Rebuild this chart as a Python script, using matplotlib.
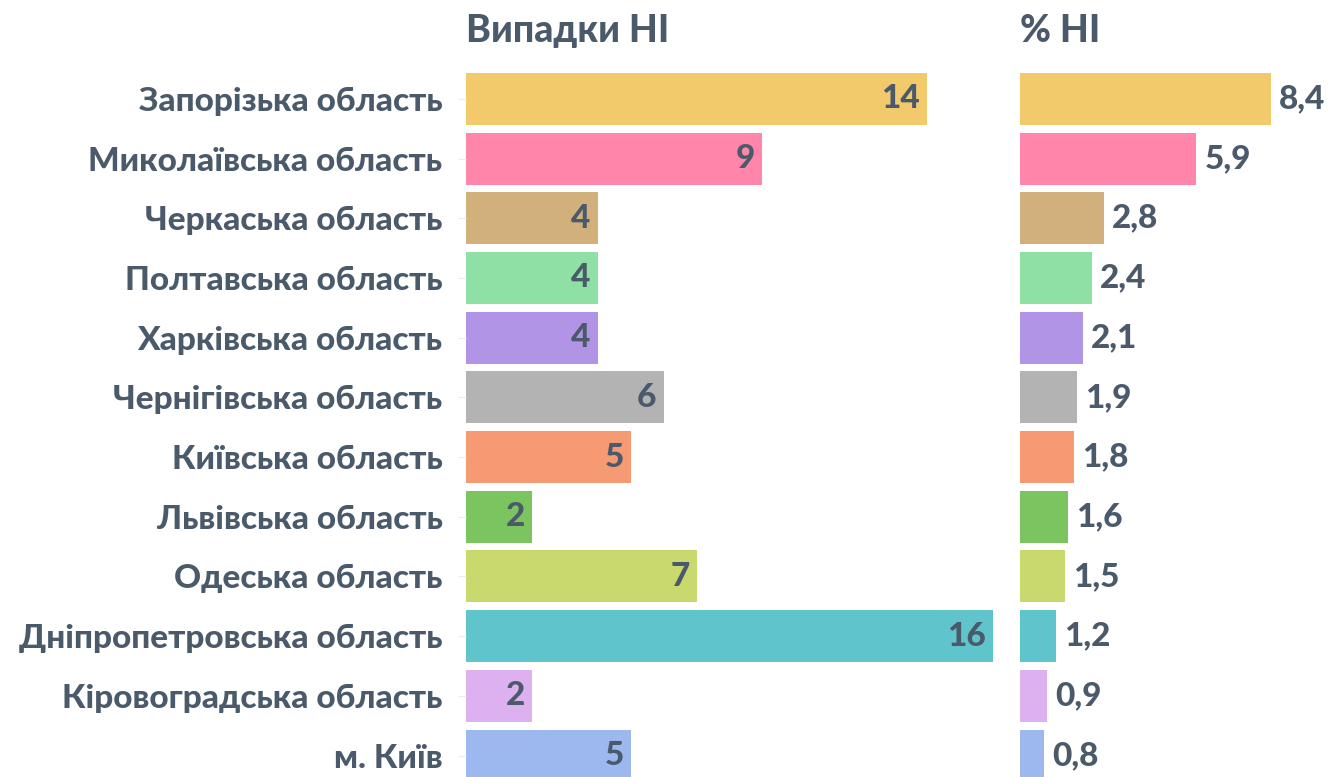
import matplotlib
matplotlib.use("Agg")
from matplotlib import pyplot as plt

regions = ["Запорізька область", "Миколаївська область", "Черкаська область",
           "Полтавська область", "Харківська область", "Чернігівська область",
           "Київська область", "Львівська область", "Одеська область",
           "Дніпропетровська область", "Кіровоградська область", "м. Київ"]
cases = [14, 9, 4, 4, 4, 6, 5, 2, 7, 16, 2, 5]
share = [8.4, 5.9, 2.8, 2.4, 2.1, 1.9, 1.8, 1.6, 1.5, 1.2, 0.9, 0.8]
colors = ["#f2c96b", "#ff85aa", "#d2b07c", "#8ee0a4", "#b294e6", "#b3b3b3",
          "#f59a72", "#7bc460", "#c9d96e", "#5fc4cc", "#ddb0f0", "#9db7ef"]

txt = "#4b5a6b"
plt.rcParams['font.family'] = ['Lato', 'DejaVu Sans']
wt = 'black'

W, H = 1337, 777
fig = plt.figure(figsize=(W / 100, H / 100), dpi=100)

top_px = 69
ax1 = fig.add_axes([466 / W, 0, (993 - 466) / W, 1 - top_px / H])
ax2 = fig.add_axes([1020 / W, 0, (1271 - 1020) / W, 1 - top_px / H])

ypos = list(range(len(regions)))
for ax in (ax1, ax2):
    for s in ax.spines.values():
        s.set_visible(False)
    ax.set_ylim(11.36, -0.5)
    ax.set_xticks([])

fs = 24
ax1.barh(ypos, cases, height=0.87, color=colors)
ax1.set_xlim(0, 16)
ax1.set_yticks(ypos)
ax1.set_yticklabels(regions, fontsize=fs, color=txt, fontweight=wt)
ax1.tick_params(axis='y', length=6, color='#ececec', pad=11)
for y, v in zip(ypos, cases):
    ax1.annotate(str(v), (v, y), xytext=(-5, 0), textcoords='offset points',
                 ha='right', va='center', fontsize=fs, color=txt, fontweight=wt)

ax2.barh(ypos, share, height=0.87, color=colors)
ax2.set_xlim(0, 8.4)
ax2.set_yticks([])
for y, v in zip(ypos, share):
    ax2.annotate(f"{v:.1f}".replace(".", ","), (v, y), xytext=(6, 0),
                 textcoords='offset points', ha='left', va='center',
                 fontsize=fs, color=txt, fontweight=wt, annotation_clip=False)

fig.text(466 / W, 1 - 31 / H, "Випадки НІ", ha='left', va='center',
         fontsize=27, color=txt, fontweight=wt)
fig.text(1020 / W, 1 - 31 / H, "% НІ", ha='left', va='center',
         fontsize=27, color=txt, fontweight=wt)

fig.savefig("out.png", dpi=100)
